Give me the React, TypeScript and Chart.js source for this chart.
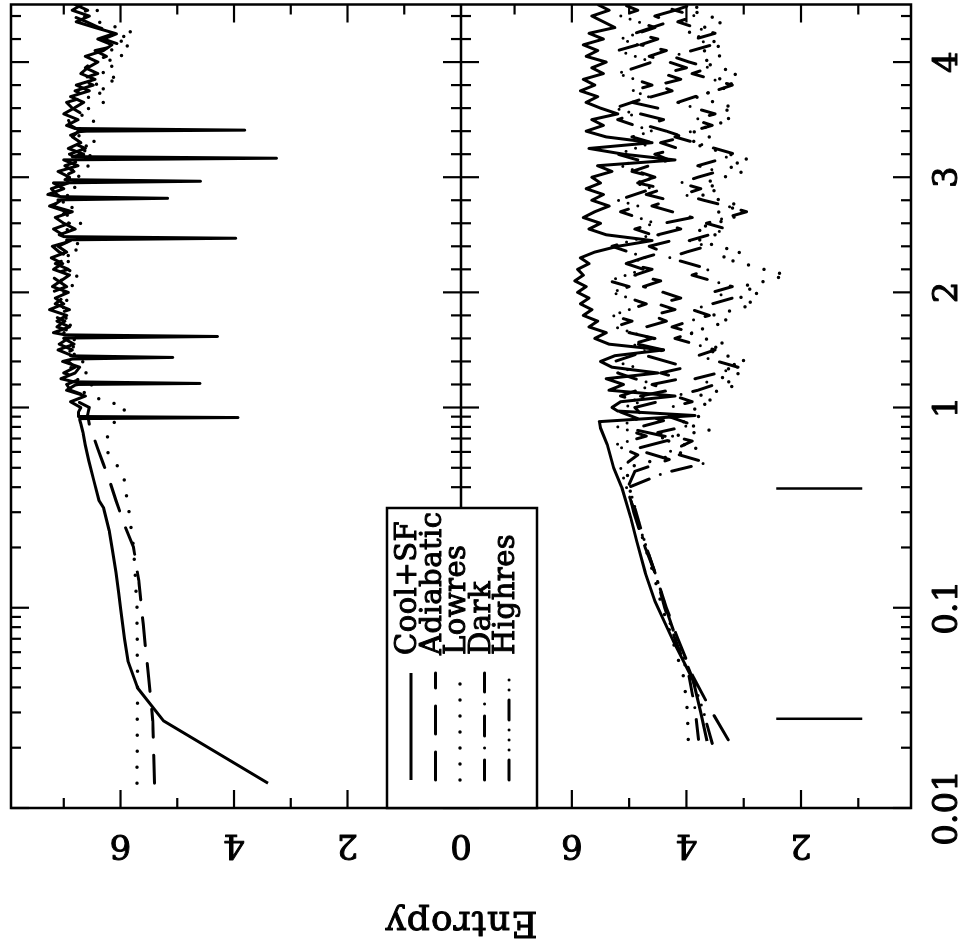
import React, { useEffect, useRef } from 'react';
import { Chart, registerables, LinearScale } from 'chart.js';

Chart.register(...registerables);

// ---------------- data ----------------
const LEGEND_LABELS = ['Cool+SF', 'Adiabatic', 'Lowres', 'Dark', 'Highres'];

const R_MAJOR = [0.01, 0.1, 1, 2, 3, 4];
const R_MAJOR_LABELS = ['0.01', '0.1', '1', '2', '3', '4'];
const R_MINOR = [0.02, 0.03, 0.04, 0.05, 0.06, 0.07, 0.08, 0.09, 0.2, 0.3, 0.4, 0.5, 0.6, 0.7, 0.8, 0.9,
  1.2, 1.4, 1.6, 1.8, 2.2, 2.4, 2.6, 2.8, 3.2, 3.4, 3.6, 3.8, 4.2, 4.4];
const E_MAJOR = [0, 2, 4, 6, 8];
const E_MINOR = [1, 3, 5, 7];
const E_LABELS_TOP = [0, 2, 4, 6];
const E_LABELS_BOTTOM = [2, 4, 6];

// outer radius grid
const R_OUT = [1.00, 1.05, 1.10, 1.15, 1.20, 1.25, 1.30, 1.35, 1.40, 1.45, 1.50, 1.55, 1.60, 1.65, 1.70, 1.75, 1.80, 1.85, 1.90, 1.95,
  2.00, 2.05, 2.10, 2.15, 2.20, 2.25, 2.30, 2.35, 2.40, 2.45, 2.50, 2.55, 2.60, 2.65, 2.70, 2.75, 2.80, 2.85, 2.90, 2.95,
  3.00, 3.05, 3.10, 3.15, 3.20, 3.25, 3.30, 3.35, 3.40, 3.45, 3.50, 3.55, 3.60, 3.65, 3.70, 3.75, 3.80, 3.85, 3.90, 3.95,
  4.00, 4.05, 4.10, 4.15, 4.20, 4.25, 4.30, 4.35, 4.40, 4.45, 4.50];

// top panel: Cool+SF
const TOP_SOLID_R_IN = [0.0133, 0.0272, 0.0398, 0.0543, 0.07, 0.1, 0.118, 0.15, 0.193, 0.242, 0.316, 0.343, 0.431, 0.543, 0.65, 0.75, 0.832, 0.87, 0.95];
const TOP_SOLID_E_IN = [3.40, 5.24, 5.70, 5.87, 5.93, 6.00, 6.03, 6.08, 6.14, 6.20, 6.30, 6.38, 6.47, 6.56, 6.62, 6.66, 6.70, 6.72, 6.74];
const TOP_SOLID_E_OUT = [6.70, 6.88, 6.62, 6.95, 6.74, 7.05, 6.80, 6.72, 7.02, 6.85,
  7.10, 6.82, 7.00, 7.18, 6.90, 7.12, 6.95, 7.25, 7.00, 7.15,
  6.92, 7.20, 7.05, 6.90, 7.18, 7.02, 7.22, 6.95, 7.10, 6.88,
  7.08, 6.80, 7.00, 7.15, 6.85, 7.20, 7.05, 7.28, 7.00, 7.18,
  6.90, 7.10, 6.75, 7.00, 6.65, 6.92, 6.70, 6.85, 6.60, 6.95,
  6.75, 7.00, 6.82, 6.65, 6.88, 6.55, 6.78, 6.45, 6.70, 6.58,
  6.40, 6.62, 6.30, 6.15, 6.40, 6.10, 6.45, 6.78, 6.55, 6.85, 6.68];
const SPIKE_R = [0.880, 0.891, 0.902, 1.195, 1.209, 1.223, 1.421, 1.435, 1.449, 1.603, 1.617, 1.631,
  2.456, 2.470, 2.484, 2.803, 2.817, 2.831, 2.951, 2.965, 2.979, 3.151, 3.165, 3.179, 3.395, 3.409, 3.423];
const SPIKE_E = [6.72, 3.93, 6.74, 6.80, 4.60, 6.82, 6.85, 5.08, 6.88, 6.95, 4.29, 6.98,
  6.95, 3.97, 7.00, 7.10, 5.17, 7.05, 7.00, 4.59, 6.98, 6.90, 3.25, 6.85, 6.75, 3.81, 6.80];

// top panel: Adiabatic
const TOP_ADIA_R_IN = [0.0133, 0.0272, 0.043, 0.083, 0.137, 0.2, 0.263, 0.343, 0.42, 0.52, 0.62, 0.72, 0.82, 0.92];
const TOP_ADIA_E_IN = [5.40, 5.43, 5.50, 5.60, 5.68, 5.77, 5.94, 6.08, 6.18, 6.30, 6.40, 6.48, 6.55, 6.58];
const TOP_ADIA_E_OUT = [6.55, 6.75, 6.60, 6.88, 6.95, 6.70, 7.00, 6.80, 6.92, 7.05,
  6.85, 7.08, 6.92, 6.80, 7.12, 6.98, 7.20, 6.90, 7.15, 7.02,
  7.22, 6.95, 7.10, 7.25, 6.92, 7.15, 6.88, 7.08, 7.20, 6.85,
  7.02, 7.18, 6.90, 7.10, 6.95, 7.25, 6.98, 7.12, 7.22, 6.92,
  7.05, 6.82, 6.98, 6.68, 6.90, 6.62, 6.85, 6.95, 6.70, 6.88,
  6.92, 6.68, 6.85, 6.95, 6.60, 6.80, 6.48, 6.72, 6.40, 6.62,
  6.50, 6.25, 6.45, 6.00, 6.30, 6.05, 6.38, 6.60, 6.85, 6.58, 6.80];

// top panel: Lowres
const TOP_LOW_R_IN = [0.0133, 0.043, 0.1, 0.2, 0.3, 0.37, 0.447, 0.525, 0.6, 0.71, 0.79, 0.9, 0.96];
const TOP_LOW_E_IN = [5.71, 5.70, 5.71, 5.77, 5.85, 5.90, 5.94, 6.08, 6.23, 6.23, 6.17, 6.05, 5.95];
const TOP_LOW_E_OUT = [5.90, 6.20, 6.55, 6.70, 6.50, 6.80, 6.60, 6.90, 6.65, 6.85,
  6.70, 6.95, 6.78, 7.00, 6.82, 7.05, 6.88, 6.95, 7.10, 6.85,
  7.00, 6.80, 7.08, 6.70, 6.95, 6.85, 7.05, 6.72, 6.90, 6.60,
  6.85, 6.95, 6.70, 6.88, 7.02, 6.80, 7.10, 6.90, 6.75, 7.00,
  6.70, 6.92, 6.55, 6.80, 6.45, 6.75, 6.40, 6.70, 6.85, 6.55,
  6.45, 6.75, 6.55, 6.30, 6.60, 6.20, 6.50, 6.00, 6.35, 6.10,
  6.30, 5.95, 6.20, 5.80, 6.10, 5.75, 6.05, 6.40, 6.65, 6.40, 6.60];

// bottom panel
const BOT_SOLID_R_IN = [0.0216, 0.03, 0.0432, 0.0682, 0.108, 0.15, 0.216, 0.28, 0.4, 0.5, 0.65, 0.79, 0.85, 0.912, 0.96];
const BOT_SOLID_E_IN = [3.64, 3.75, 3.88, 4.23, 4.55, 4.72, 4.87, 4.97, 5.13, 5.27, 5.38, 5.50, 5.52, 3.85, 5.20];
const BOT_SOLID_E_OUT = [5.30, 5.15, 4.20, 5.35, 5.10, 5.40, 4.50, 5.30, 5.50, 5.25,
  4.40, 5.35, 5.60, 5.40, 5.70, 5.55, 5.80, 5.65, 5.85, 5.70,
  5.90, 5.75, 5.95, 5.80, 5.90, 5.70, 5.85, 5.60, 5.20, 4.60,
  5.40, 5.70, 5.50, 5.80, 5.60, 5.35, 5.65, 5.45, 5.75, 5.50,
  5.65, 5.30, 5.55, 4.20, 5.10, 5.70, 4.60, 5.40, 5.75, 5.45,
  5.65, 5.20, 5.50, 5.75, 5.55, 5.85, 5.60, 5.80, 5.45, 5.65,
  5.40, 5.75, 5.55, 5.80, 5.45, 5.70, 5.25, 5.45, 5.65, 5.35, 5.55];

const BOT_ADIA_R_IN = [0.0219, 0.03, 0.045, 0.07, 0.1, 0.15, 0.2, 0.3, 0.4, 0.48, 0.55, 0.62, 0.7, 0.78, 0.86, 0.93];
const BOT_ADIA_E_IN = [3.27, 3.55, 3.88, 4.15, 4.35, 4.55, 4.72, 4.92, 5.02, 4.90, 4.30, 4.90, 4.20, 4.95, 4.40, 4.80];
const BOT_ADIA_E_OUT = [4.90, 4.50, 4.80, 4.30, 4.60, 4.10, 4.45, 4.00, 4.35, 4.70,
  4.40, 4.85, 4.55, 5.00, 4.70, 4.35, 4.60, 4.20, 4.50, 4.10,
  4.40, 4.75, 4.45, 4.90, 4.60, 5.05, 4.75, 4.40, 4.65, 4.25,
  4.50, 4.10, 4.40, 3.90, 4.25, 4.60, 4.30, 4.70, 4.40, 4.85,
  4.55, 4.95, 4.65, 4.30, 4.55, 4.15, 4.45, 4.05, 4.35, 4.70,
  4.40, 4.80, 4.50, 4.95, 4.60, 4.25, 4.50, 4.10, 4.40, 4.00,
  4.30, 4.65, 4.35, 4.80, 4.50, 4.90, 4.60, 4.30, 4.55, 4.20, 4.50];

const BOT_LOW_R_IN = [0.022, 0.03, 0.045, 0.07, 0.1, 0.15, 0.2, 0.3, 0.4, 0.5, 0.56, 0.63, 0.7, 0.77, 0.84, 0.92];
const BOT_LOW_E_IN = [3.97, 3.98, 4.05, 4.25, 4.42, 4.58, 4.72, 4.88, 5.0, 5.05, 4.40, 3.80, 4.50, 3.60, 4.10, 3.70];
const BOT_LOW_E_OUT = [3.90, 3.50, 3.80, 3.40, 3.10, 3.45, 3.05, 3.35, 2.95, 3.30,
  3.65, 3.30, 3.70, 3.95, 3.60, 3.25, 3.55, 3.15, 2.80, 3.10,
  2.70, 3.05, 2.60, 2.25, 2.65, 3.00, 3.40, 3.05, 3.45, 3.80,
  3.50, 3.85, 3.50, 3.15, 3.45, 3.05, 3.40, 3.75, 3.40, 3.70,
  3.35, 3.00, 3.30, 2.90, 3.25, 3.60, 3.95, 3.60, 3.90, 3.55,
  3.20, 3.55, 3.15, 3.50, 3.85, 3.50, 3.15, 3.45, 3.10, 3.40,
  3.75, 3.40, 3.70, 3.35, 3.65, 4.00, 3.70, 3.35, 3.60, 3.95, 3.70];

const BOT_DARK_R_IN = [0.022, 0.03, 0.045, 0.07, 0.1, 0.15, 0.2, 0.3, 0.4, 0.47, 0.53, 0.6, 0.68, 0.75, 0.82, 0.9];
const BOT_DARK_E_IN = [3.79, 3.84, 3.95, 4.2, 4.38, 4.55, 4.7, 4.88, 5.0, 4.40, 3.65, 4.30, 3.90, 4.50, 3.90, 4.30];
const BOT_DARK_E_OUT = [4.30, 3.90, 4.20, 3.80, 3.50, 3.85, 3.45, 3.10, 3.45, 3.80,
  3.50, 3.85, 4.20, 3.90, 4.25, 3.95, 3.60, 3.90, 3.55, 3.20,
  3.55, 3.20, 3.55, 3.90, 3.60, 3.95, 4.30, 4.00, 3.65, 3.95,
  3.60, 3.30, 3.65, 3.30, 2.95, 3.30, 3.70, 4.05, 3.75, 4.10,
  3.80, 3.45, 3.80, 3.45, 3.15, 3.50, 3.85, 4.20, 3.90, 3.55,
  3.85, 3.50, 3.85, 4.15, 3.85, 3.50, 3.20, 3.55, 3.90, 3.60,
  3.95, 4.25, 3.90, 3.55, 3.85, 3.50, 3.85, 4.15, 3.85, 4.20, 3.90];

const BOT_HIGH_R_IN = [0.021, 0.03, 0.045, 0.07, 0.1, 0.15, 0.2, 0.3, 0.4, 0.5, 0.58, 0.65, 0.72, 0.8, 0.88, 0.95];
const BOT_HIGH_E_IN = [3.55, 3.70, 3.90, 4.18, 4.36, 4.55, 4.70, 4.90, 5.05, 5.15, 4.85, 5.25, 4.70, 5.20, 4.85, 5.15];
const BOT_HIGH_E_OUT = [5.10, 4.80, 5.15, 4.85, 4.55, 4.90, 5.20, 4.90, 5.25, 4.95,
  4.65, 4.95, 4.60, 4.95, 5.25, 4.95, 5.30, 5.00, 4.70, 5.00,
  5.30, 5.00, 5.35, 5.05, 4.75, 5.05, 4.70, 5.00, 5.30, 4.95,
  4.60, 4.90, 4.55, 4.85, 5.15, 4.85, 5.20, 4.90, 4.60, 4.90,
  4.55, 4.85, 5.15, 4.85, 5.20, 4.90, 4.60, 4.95, 4.60, 4.90,
  5.20, 4.90, 5.25, 4.95, 4.65, 4.95, 4.60, 4.90, 5.20, 4.90,
  4.60, 4.90, 5.20, 4.85, 5.15, 4.85, 4.55, 4.85, 5.15, 4.85, 5.10];

// vertical marker bars in the lower panel
const MARK_R = [0.0279, 0.394];
const MARK_E = [0.93, 2.43];

// ---------------- styles ----------------
const DASH: Record<string, number[]> = {
  solid: [],
  dashed: [28, 18],
  dotted: [0, 16],
  dashdot: [20, 12, 0, 12],
  dash3dot: [20, 10, 0, 10, 0, 10, 0, 10],
};
const LEGEND_STYLES = ['solid', 'dashed', 'dotted', 'dashdot', 'dash3dot'];

// ---------------- mixed log/linear radius scale ----------------
const LIN_DEX_PER_UNIT = 0.575;
function toU(r: number) {
  return r <= 1 ? Math.log10(r) + 2 : 2 + (r - 1) * LIN_DEX_PER_UNIT;
}
function fromU(u: number) {
  return u <= 2 ? Math.pow(10, u - 2) : 1 + (u - 2) / LIN_DEX_PER_UNIT;
}
class MixedLogScale extends LinearScale {
  static id = 'mixedlog';
  getPixelForValue(value: number) {
    const u0 = toU(this.min), u1 = toU(this.max);
    return this.getPixelForDecimal((toU(value) - u0) / (u1 - u0));
  }
  getValueForPixel(pixel: number) {
    const u0 = toU(this.min), u1 = toU(this.max);
    return fromU(u0 + this.getDecimalForPixel(pixel) * (u1 - u0));
  }
}
Chart.register(MixedLogScale as any);

const pts = (rs: number[], es: number[]) => rs.map((r, i) => ({ x: r, y: es[i] }));
const merged = (...parts: { x: number; y: number }[][]) => parts.flat().sort((a, b) => a.x - b.x);

function ds(data: any[], style: string, axis: string, width = 3) {
  return {
    data,
    yAxisID: axis,
    showLine: true,
    borderColor: '#000',
    backgroundColor: '#000',
    borderWidth: style === 'dotted' ? 3.5 : width,
    borderDash: DASH[style],
    borderCapStyle: style === 'solid' ? 'butt' : 'round',
    borderJoinStyle: 'round',
    pointRadius: 0,
    fill: false,
    tension: 0,
  };
}

const FONT = '"DejaVu Serif", "Liberation Serif", serif';

const pgPlugin = {
  id: 'pgframe',
  afterDatasetsDraw(chart: any) {
    const { ctx, chartArea: a } = chart;
    const sx = chart.scales.x, yT = chart.scales.yT, yB = chart.scales.yB;
    const mid = yT.getPixelForValue(0);
    const line = (x1: number, y1: number, x2: number, y2: number) => {
      ctx.beginPath(); ctx.moveTo(x1, y1); ctx.lineTo(x2, y2); ctx.stroke();
    };
    const txt = (s: string, x: number, y: number) => {
      ctx.save();
      ctx.lineWidth = 1;
      ctx.lineJoin = 'round';
      ctx.setLineDash([]);
      ctx.fillText(s, x, y);
      ctx.strokeText(s, x, y);
      ctx.restore();
    };
    ctx.save();
    ctx.strokeStyle = '#000';
    ctx.fillStyle = '#000';
    ctx.setLineDash([]);
    ctx.lineCap = 'butt';
    ctx.lineWidth = 2.5;
    ctx.strokeRect(a.left, a.top, a.right - a.left, a.bottom - a.top);
    line(a.left, mid, a.right, mid);

    // radius ticks
    ctx.lineWidth = 2.2;
    const rt = (r: number, len: number) => {
      const px = sx.getPixelForValue(r);
      line(px, a.top, px, a.top + len);
      line(px, mid - len, px, mid + len);
      line(px, a.bottom, px, a.bottom - len);
    };
    R_MAJOR.forEach((r) => rt(r, 18));
    R_MINOR.forEach((r) => rt(r, 10));

    // entropy ticks
    const et = (scale: any, e: number, len: number, lo: number, hi: number) => {
      const py = scale.getPixelForValue(e);
      if (py <= lo + 1 || py >= hi - 1) return;
      line(a.left, py, a.left + len, py);
      line(a.right, py, a.right - len, py);
    };
    E_MAJOR.forEach((e) => { et(yT, e, 18, a.top, mid); et(yB, e, 18, mid, a.bottom); });
    E_MINOR.forEach((e) => { et(yT, e, 10, a.top, mid); et(yB, e, 10, mid, a.bottom); });

    // radius labels
    ctx.font = '34px ' + FONT;
    ctx.textAlign = 'center';
    ctx.textBaseline = 'alphabetic';
    R_MAJOR.forEach((r, i) => txt(R_MAJOR_LABELS[i], sx.getPixelForValue(r), 957));

    // entropy labels (parallel to axis)
    const el = (scale: any, e: number) => {
      ctx.save();
      ctx.translate(115, scale.getPixelForValue(e));
      ctx.rotate(-Math.PI / 2);
      txt(String(e), 0, 0);
      ctx.restore();
    };
    E_LABELS_TOP.forEach((e) => el(yT, e));
    E_LABELS_BOTTOM.forEach((e) => el(yB, e));

    // axis title
    ctx.save();
    ctx.font = '36px ' + FONT;
    (ctx as any).letterSpacing = '1px';
    ctx.translate(38, (a.top + a.bottom) / 2);
    ctx.rotate(-Math.PI / 2);
    txt('Entropy', 0, 0);
    ctx.restore();

    // legend box
    const bx0 = a.left, bx1 = 442, by0 = 387, by1 = 537;
    ctx.fillStyle = '#fff';
    ctx.fillRect(bx0, by0, bx1 - bx0, by1 - by0);
    ctx.lineWidth = 2.5;
    ctx.strokeRect(bx0, by0, bx1 - bx0, by1 - by0);
    ctx.fillStyle = '#000';
    ctx.font = '29px ' + FONT;
    (ctx as any).letterSpacing = '0.5px';
    ctx.textAlign = 'left';
    LEGEND_LABELS.forEach((lab, i) => {
      const base = 416 + 24.5 * i;
      const sy = base - 5;
      const st = LEGEND_STYLES[i];
      ctx.save();
      ctx.lineWidth = st === 'dotted' ? 3.5 : 3;
      ctx.lineCap = st === 'solid' ? 'butt' : 'round';
      ctx.setLineDash(DASH[st]);
      line(170, sy, 277, sy);
      ctx.restore();
      txt(lab, 295, base);
    });
    (ctx as any).letterSpacing = '0px';
    ctx.restore();
  },
};

export default function App() {
  const ref = useRef<HTMLCanvasElement | null>(null);
  useEffect(() => {
    const canvas = ref.current;
    if (!canvas) return;
    const datasets: any[] = [
      ds(merged(pts(TOP_SOLID_R_IN, TOP_SOLID_E_IN), pts(R_OUT, TOP_SOLID_E_OUT), pts(SPIKE_R, SPIKE_E)), 'solid', 'yT'),
      ds(merged(pts(TOP_ADIA_R_IN, TOP_ADIA_E_IN), pts(R_OUT, TOP_ADIA_E_OUT)), 'dashed', 'yT'),
      ds(merged(pts(TOP_LOW_R_IN, TOP_LOW_E_IN), pts(R_OUT, TOP_LOW_E_OUT)), 'dotted', 'yT'),
      ds(merged(pts(BOT_SOLID_R_IN, BOT_SOLID_E_IN), pts(R_OUT, BOT_SOLID_E_OUT)), 'solid', 'yB'),
      ds(merged(pts(BOT_ADIA_R_IN, BOT_ADIA_E_IN), pts(R_OUT, BOT_ADIA_E_OUT)), 'dashed', 'yB'),
      ds(merged(pts(BOT_LOW_R_IN, BOT_LOW_E_IN), pts(R_OUT, BOT_LOW_E_OUT)), 'dotted', 'yB'),
      ds(merged(pts(BOT_DARK_R_IN, BOT_DARK_E_IN), pts(R_OUT, BOT_DARK_E_OUT)), 'dashdot', 'yB'),
      ds(merged(pts(BOT_HIGH_R_IN, BOT_HIGH_E_IN), pts(R_OUT, BOT_HIGH_E_OUT)), 'dash3dot', 'yB'),
      ...MARK_R.map((r) => ds([{ x: r, y: MARK_E[0] }, { x: r, y: MARK_E[1] }], 'solid', 'yB', 2.5)),
    ];
    const chart = new Chart(canvas, {
      type: 'scatter',
      data: { datasets },
      options: {
        responsive: false,
        animation: false,
        devicePixelRatio: 1,
        events: [],
        layout: { padding: { left: 142, right: 4.5, top: 11, bottom: 53 } },
        plugins: { legend: { display: false }, tooltip: { enabled: false }, title: { display: false } },
        scales: {
          x: { type: 'mixedlog', min: 0.01, max: 4.5, display: false },
          yT: { type: 'linear', position: 'left', min: -7.93, max: 7.93, display: false },
          yB: { type: 'linear', position: 'left', min: 0.08, max: 15.79, display: false },
        },
      } as any,
      plugins: [pgPlugin as any],
    });
    return () => chart.destroy();
  }, []);

  return (
    <div style={{ position: 'fixed', left: 0, top: 0, width: 964, height: 950, overflow: 'hidden', background: '#fff' }}>
      <div
        style={{
          position: 'absolute', left: 0, top: 0, width: 950, height: 964,
          transformOrigin: '0 0', transform: 'translate(0px, 950px) rotate(-90deg)',
        }}
      >
        <canvas ref={ref} width={950} height={964} style={{ display: 'block', width: 950, height: 964 }} />
      </div>
    </div>
  );
}
